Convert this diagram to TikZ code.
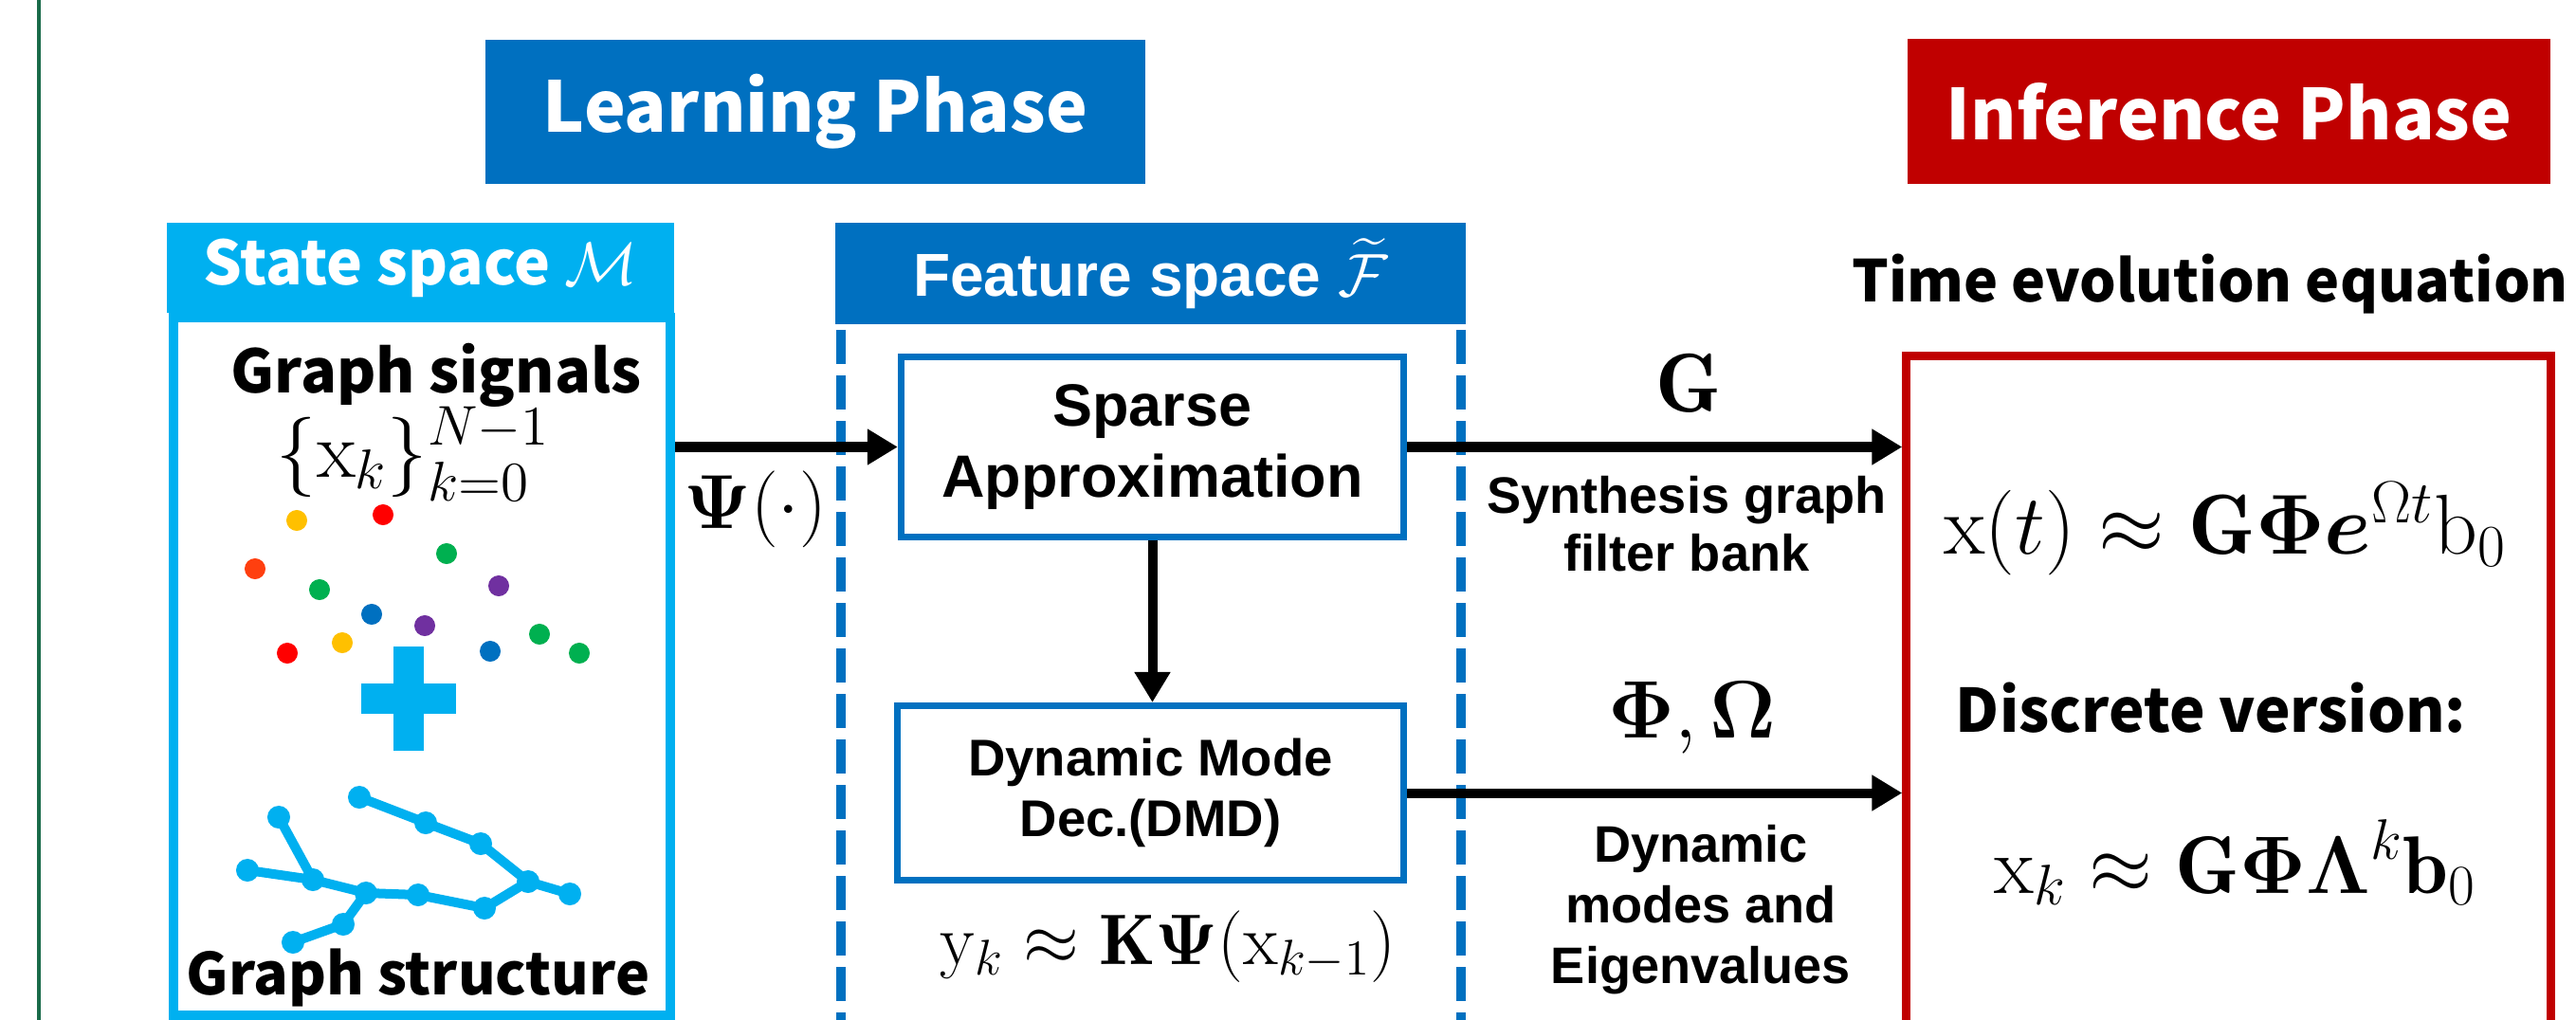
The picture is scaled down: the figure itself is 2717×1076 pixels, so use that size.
\RequirePackage{fix-cm}
\documentclass[tikz,border=0pt]{standalone}
\usepackage{amsmath,bm}
\usepackage{fontspec}
\usetikzlibrary{arrows.meta}
\newfontfamily\jpf{Noto Sans CJK JP}
\newfontfamily\arf{Liberation Sans}
\definecolor{lblue}{HTML}{00B0F0}
\definecolor{dblue}{HTML}{0070C0}
\definecolor{dred}{HTML}{C00000}
\definecolor{gline}{HTML}{1A6B4A}
\definecolor{cyel}{HTML}{FFC000}
\definecolor{cred}{HTML}{FF0000}
\definecolor{corg}{HTML}{FF3F0F}
\definecolor{cgrn}{HTML}{00B050}
\definecolor{cpur}{HTML}{7030A0}
\definecolor{cblu}{HTML}{0070C0}
\tikzset{
  phasebox/.style={inner sep=0, text=white, font=\jpf\bfseries\fontsize{21}{25}\selectfont},
  hdrbox/.style={inner sep=0, text=white},
  procbox/.style={draw=dblue, line width=0.07cm, fill=white, inner sep=0, align=center},
  arr/.style={line width=0.1cm, -{Triangle[length=0.32cm,width=0.36cm]}},
  jptxt/.style={inner sep=0, font=\jpf\bfseries\fontsize{18}{22}\selectfont},
  artxt/.style={inner sep=0, align=center},
  mtxt/.style={inner sep=0},
  sig/.style={circle, fill=#1, inner sep=0, minimum size=0.22cm},
  gnode/.style={circle, fill=lblue, inner sep=0, minimum size=0.24cm},
  gedge/.style={lblue, line width=0.1cm},
  fdash/.style={dblue, line width=0.1cm, dash pattern=on 0.36cm off 0.12cm},
}
\begin{document}
\begin{tikzpicture}[x=0.01cm, y=-0.01cm]
\useasboundingbox (0,0) rectangle (2717,1076);
\clip (0,0) rectangle (2717,1076);
\fill[white] (0,0) rectangle (2717,1076);
\draw[gline, line width=0.03cm] (41,0) -- (41,1076);

% phase titles
\node[phasebox, fill=dblue, minimum width=6.96cm, minimum height=1.52cm] (learn) at (860,118) {Learning Phase};
\node[phasebox, fill=dred, minimum width=6.78cm, minimum height=1.53cm] (infer) at (2351,117.5) {Inference Phase};

% state space
\node[draw=lblue, line width=0.1cm, minimum width=5.24cm, minimum height=7.36cm, inner sep=0] (state) at (445,703) {};
\node[hdrbox, fill=lblue, minimum width=5.35cm, minimum height=0.95cm, font=\jpf\bfseries\fontsize{18.2}{22}\selectfont] (shdr) at (443.5,282.5) {State space $\mathcal{M}$};
\node[jptxt, anchor=base, font=\jpf\bfseries\fontsize{17.9}{22}\selectfont] (gsig) at (460,415) {Graph signals};
\node[mtxt, anchor=base, font=\fontsize{24}{28}\selectfont] (xset) at (436,503) {$\{\mathrm{x}_k\}_{k=0}^{N-1}$};
\node[sig=cyel] (d1) at (313,549) {};
\node[sig=cred] (d2) at (404,543) {};
\node[sig=corg] (d3) at (269,600) {};
\node[sig=cgrn] (d4) at (471,584) {};
\node[sig=cgrn] (d5) at (337,622) {};
\node[sig=cpur] (d6) at (526,618) {};
\node[sig=cblu] (d7) at (392,648) {};
\node[sig=cpur] (d8) at (448,660) {};
\node[sig=cgrn] (d9) at (569,669) {};
\node[sig=cred] (d10) at (303,689) {};
\node[sig=cyel] (d11) at (361,678) {};
\node[sig=cblu] (d12) at (517,687) {};
\node[sig=cgrn] (d13) at (611,689) {};
\fill[lblue] (415,682) rectangle (447,792);
\fill[lblue] (381,721) rectangle (481,753);
\node[gnode] (ga) at (379,841) {};
\node[gnode] (gb) at (449,868) {};
\node[gnode] (gc) at (507,890) {};
\node[gnode] (gd) at (557,930) {};
\node[gnode] (ge) at (601,943) {};
\node[gnode] (gf) at (511,958) {};
\node[gnode] (gg) at (441,944) {};
\node[gnode] (gh) at (386,942) {};
\node[gnode] (gi) at (330,928) {};
\node[gnode] (gj) at (261,918) {};
\node[gnode] (gk) at (294,862) {};
\node[gnode] (gl) at (362,975) {};
\node[gnode] (gm) at (309,994) {};
\draw[gedge] (ga.center) -- (gb.center) -- (gc.center) -- (gd.center) -- (ge.center);
\draw[gedge] (gd.center) -- (gf.center) -- (gg.center) -- (gh.center) -- (gi.center) -- (gj.center);
\draw[gedge] (gi.center) -- (gk.center);
\draw[gedge] (gh.center) -- (gl.center) -- (gm.center);
\node[jptxt, anchor=base, font=\jpf\bfseries\fontsize{17.3}{21}\selectfont] (gstr) at (441,1049) {Graph structure};

% feature space
\draw[fdash] (887,348) -- (887,1076);
\draw[fdash] (1541,348) -- (1541,1076);
\node[hdrbox, fill=dblue, minimum width=6.65cm, minimum height=1.07cm, font=\arf\bfseries\fontsize{18.2}{22}\selectfont] (fhdr) at (1213.5,288.5) {Feature space $\widetilde{\mathcal{F}}$};
\node[procbox, minimum width=5.30cm, minimum height=1.90cm, font=\arf\bfseries\fontsize{17.9}{21.3}\selectfont] (sparse) at (1215.5,471.5) {Sparse\\Approximation};
\node[procbox, minimum width=5.34cm, minimum height=1.84cm, font=\arf\bfseries\fontsize{15.5}{18.2}\selectfont] (dmd) at (1213.5,836.5) {Dynamic Mode\\Dec.(DMD)};
\node[mtxt, anchor=base, font=\fontsize{21.5}{25}\selectfont] (yk) at (1232,1017) {$\mathrm{y}_k \approx \mathbf{K}\bm{\Psi}(\mathrm{x}_{k-1})$};

% inference box
\node[draw=dred, line width=0.09cm, minimum width=6.79cm, minimum height=8.245cm, inner sep=0] (evo) at (2350.5,787.75) {};
\node[jptxt, anchor=base, font=\jpf\bfseries\fontsize{17.3}{21}\selectfont] (tee) at (2331,318) {Time evolution equation};
\node[mtxt, anchor=base, font=\fontsize{25.5}{30}\selectfont] (xt) at (2347,584) {$\mathrm{x}(t) \approx \mathbf{G}\bm{\Phi}\bm{e}^{\Omega t}\mathrm{b}_0$};
\node[jptxt, anchor=base] (disc) at (2332,772) {Discrete version:};
\node[mtxt, anchor=base, font=\fontsize{24.5}{28}\selectfont] (xk) at (2358,942) {$\mathrm{x}_k \approx \mathbf{G}\bm{\Phi}\bm{\Lambda}^{k}\mathbf{b}_0$};

% connectors
\draw[arr] (sparse.west -| state.east) -- (sparse.west);
\draw[arr] (sparse.south) -- (sparse.south |- dmd.north);
\draw[arr] (sparse.east) -- (sparse.east -| evo.west);
\draw[arr] (dmd.east) -- (dmd.east -| evo.west);

% connector labels
\node[mtxt, anchor=base, font=\fontsize{23}{27}\selectfont] (psi) at (796.5,557) {$\bm{\Psi}(\cdot)$};
\node[mtxt, anchor=base, font=\fontsize{25}{29}\selectfont] (glab) at (1781,434) {$\mathbf{G}$};
\node[artxt, font=\arf\bfseries\fontsize{15.4}{17.4}\selectfont] (synth) at (1779,553) {Synthesis graph\\filter bank};
\node[mtxt, anchor=base, font=\fontsize{24.5}{28}\selectfont] (phio) at (1785,778) {$\bm{\Phi}, \bm{\Omega}$};
\node[artxt, font=\arf\bfseries\fontsize{15.4}{18.2}\selectfont] (modes) at (1794,959.5) {Dynamic\\modes and\\Eigenvalues};
\end{tikzpicture}
\end{document}
